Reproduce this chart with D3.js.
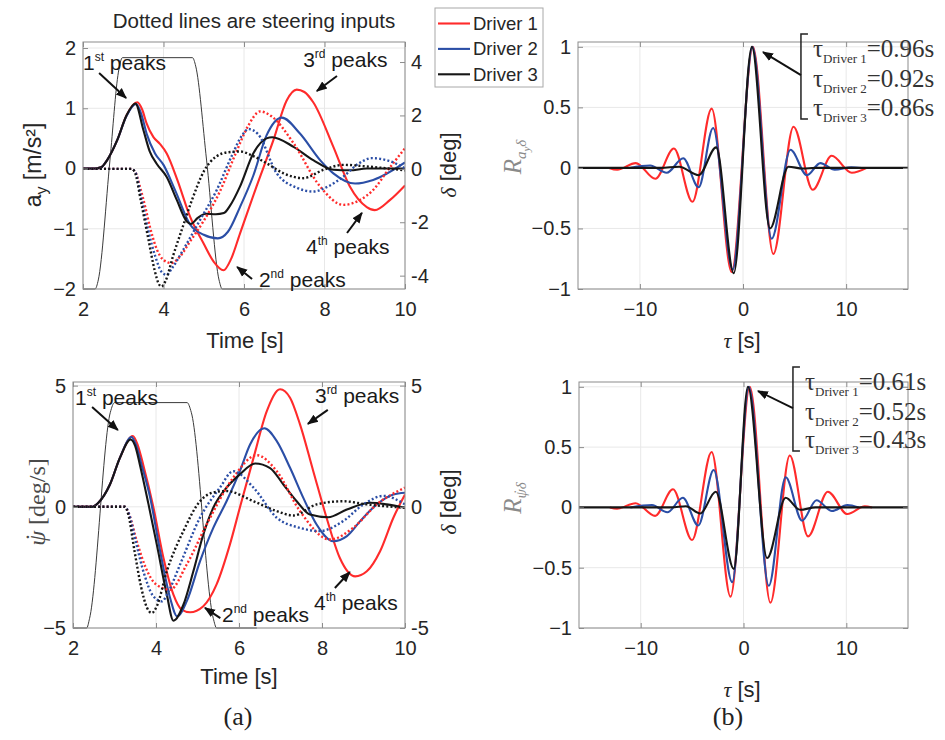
<!DOCTYPE html>
<html>
<head>
<meta charset="utf-8">
<script src="https://cdn.jsdelivr.net/npm/d3@7"></script>
<style>
  body { margin: 0; background: #fff; }
  svg { display: block; }
</style>
</head>
<body>
<svg id="chart" width="945" height="740"></svg>
<script>
const driverNames = ['Driver 1', 'Driver 2', 'Driver 3'];
const driverColors = ['#ff2b2b', '#2b4ea6', '#161616'];

// (a) top: lateral acceleration a_y [m/s²], knots [time s, value]
const ayDriver1 = [[2,0],[2.3,0],[2.45,0.02],[2.6,0.14],[2.85,0.47],[3.08,0.88],[3.35,1.1],[3.47,0.98],[3.58,0.75],[3.75,0.52],[3.91,0.41],[4.08,0.25],[4.35,-0.2],[4.66,-0.8],[5.0,-1.25],[5.25,-1.55],[5.49,-1.69],[5.68,-1.5],[5.9,-1.08],[6.31,-0.3],[6.73,0.47],[7.06,1.13],[7.31,1.31],[7.5,1.27],[7.72,1.1],[8.22,0.36],[8.63,-0.3],[9.05,-0.64],[9.25,-0.69],[9.63,-0.52],[10,-0.28]];
const ayDriver2 = [[2,0],[2.3,0],[2.45,0.02],[2.6,0.14],[2.85,0.47],[3.08,0.87],[3.32,1.07],[3.45,0.9],[3.58,0.58],[3.79,0.25],[4.0,0.06],[4.3,-0.38],[4.66,-0.93],[5.0,-1.1],[5.35,-1.16],[5.6,-1.05],[5.9,-0.64],[6.23,-0.12],[6.56,0.55],[6.94,0.845],[7.39,0.58],[7.89,0.14],[8.22,-0.08],[8.76,-0.25],[9.21,-0.19],[10,0.1]];
const ayDriver3 = [[2,0],[2.3,0],[2.45,0.02],[2.6,0.14],[2.85,0.47],[3.08,0.88],[3.3,1.08],[3.5,0.64],[3.66,0.28],[3.83,0.08],[4.08,-0.14],[4.33,-0.52],[4.58,-0.88],[4.68,-0.92],[4.85,-0.82],[5.05,-0.75],[5.3,-0.76],[5.5,-0.74],[5.65,-0.62],[5.9,-0.3],[6.23,0.25],[6.56,0.5],[6.7,0.52],[7.23,0.36],[7.72,0.14],[8.22,-0.02],[8.63,-0.03],[9.05,0],[10,0]];
// (a) top: steering inputs δ [deg] (dotted, right axis)
const steerA1 = [[2,0],[3.2,0],[3.3,-0.12],[3.42,-0.7],[3.55,-1.45],[3.66,-2.16],[3.83,-3.0],[3.99,-3.4],[4.2,-3.53],[4.4,-3.3],[4.66,-2.72],[4.99,-1.97],[5.4,-0.85],[5.8,0.6],[6.1,1.6],[6.4,2.15],[6.7,1.95],[7.23,0.96],[7.89,-0.66],[8.47,-1.35],[8.9,-1.15],[9.21,-0.79],[9.6,0.0],[10,0.77]];
const steerA2 = [[2,0],[3.2,0],[3.3,-0.12],[3.45,-1.1],[3.62,-2.3],[3.8,-3.3],[3.95,-3.85],[4.08,-3.97],[4.2,-3.75],[4.49,-3.03],[4.91,-1.91],[5.32,-0.8],[5.7,0.5],[5.95,1.25],[6.11,1.49],[6.35,1.3],[6.81,-0.16],[7.3,-0.7],[7.72,-0.85],[8.1,-0.65],[8.47,-0.29],[8.85,0.2],[9.17,0.4],[9.6,0.3],[10,0.02]];
const steerA3 = [[2,0],[3.2,0],[3.28,-0.1],[3.45,-1.3],[3.62,-2.6],[3.78,-3.8],[3.88,-4.3],[3.95,-4.41],[4.05,-4.2],[4.25,-3.2],[4.45,-2.3],[4.7,-1.2],[5.0,-0.1],[5.3,0.45],[5.6,0.62],[5.9,0.65],[6.2,0.5],[6.56,0.21],[7.0,-0.18],[7.47,-0.35],[7.97,-0.04],[8.47,0.15],[9.05,0.09],[10,-0.06]];
// thin reference trace (left axis units)
const refInputA = [[2,-2],[2.3,-2],[2.38,-1.85],[2.67,0.14],[2.88,1.6],[2.98,1.84],[4.72,1.84],[4.8,1.7],[5.07,0.14],[5.38,-1.85],[5.46,-2],[6.45,-2]];

// (a) bottom: yaw rate [deg/s]
const yrDriver1 = [[2,0],[2.45,0],[2.6,0.15],[2.89,0.92],[3.13,2.02],[3.44,2.92],[3.56,2.55],[3.69,1.75],[3.94,-0.04],[4.18,-2.11],[4.42,-3.62],[4.62,-4.24],[4.82,-4.35],[5.14,-4.1],[5.46,-3.2],[5.78,-1.56],[6.02,-0.04],[6.35,2.02],[6.67,3.95],[6.99,4.85],[7.23,4.5],[7.47,3.4],[7.79,1.47],[8.11,-0.45],[8.43,-2.11],[8.8,-2.87],[9.08,-2.66],[9.4,-1.83],[9.72,-0.45],[10,0.51]];
const yrDriver2 = [[2,0],[2.45,0],[2.6,0.15],[2.89,0.92],[3.13,2.02],[3.41,2.88],[3.52,2.55],[3.65,1.75],[3.86,0.37],[4.1,-1.83],[4.34,-3.76],[4.51,-4.52],[4.74,-3.9],[5.06,-2.25],[5.38,-0.87],[5.7,0.23],[6.02,1.47],[6.27,2.58],[6.61,3.24],[6.91,2.71],[7.23,1.61],[7.55,0.37],[7.87,-0.73],[8.27,-1.42],[8.6,-1.21],[8.92,-0.59],[9.32,0.1],[9.72,0.51],[10,0.58]];
const yrDriver3 = [[2,0],[2.45,0],[2.6,0.15],[2.89,0.92],[3.13,2.02],[3.39,2.78],[3.5,2.5],[3.61,1.75],[3.82,0.1],[4.02,-1.56],[4.26,-3.62],[4.42,-4.7],[4.66,-4.04],[4.9,-2.66],[5.14,-1.14],[5.38,-0.04],[5.7,0.79],[6.02,1.34],[6.39,1.79],[6.75,1.6],[7.07,0.92],[7.39,0.23],[7.71,-0.32],[8.15,-0.43],[8.6,-0.11],[9.16,0.17],[9.56,0.1],[10,-0.04]];
const steerB1 = [[2,0],[3.25,0],[3.35,-0.3],[3.55,-1.5],[3.75,-2.5],[4.0,-3.2],[4.34,-3.42],[4.74,-2.38],[5.22,-0.73],[5.86,1.2],[6.43,2.13],[6.91,1.47],[7.47,-0.18],[8.19,-1.35],[8.75,-0.87],[9.32,0.1],[10,0.79]];
const steerB2 = [[2,0],[3.25,0],[3.35,-0.3],[3.52,-1.5],[3.72,-2.8],[3.92,-3.65],[4.14,-3.9],[4.3,-3.5],[4.58,-2.38],[5.06,-0.45],[5.54,0.79],[5.86,1.47],[6.35,0.79],[6.91,-0.45],[7.47,-0.87],[7.95,-1.0],[8.5,-0.6],[9.0,0.1],[9.48,0.45],[10,0.1]];
const steerB3 = [[2,0],[3.25,0],[3.33,-0.3],[3.48,-1.8],[3.64,-3.3],[3.78,-4.15],[3.9,-4.38],[4.02,-4.1],[4.26,-2.66],[4.66,-1.0],[5.06,0.23],[5.4,0.6],[5.7,0.65],[6.35,0.23],[6.91,-0.18],[7.31,-0.36],[7.87,0.1],[8.51,0.23],[9.08,0.1],[10,-0.04]];
const refInputB = [[2,-5],[2.33,-5],[2.4,-4.6],[2.9,3.9],[3.0,4.3],[4.75,4.3],[4.85,3.9],[5.38,-4.6],[5.46,-5],[6.43,-5]];

// (b) cross-correlations, knots [lag τ s, R]
const corrA1 = [[-13,0],[-12.2,-0.015],[-10.4,0.04],[-8.5,-0.09],[-6.7,0.16],[-4.9,-0.28],[-3.04,0.49],[-1.1,-0.86],[0.96,1.0],[2.94,-0.71],[4.9,0.34],[6.76,-0.18],[8.6,0.1],[10.55,-0.04],[12,0]];
const corrA2 = [[-11,0],[-9.0,0.02],[-7.4,-0.04],[-5.8,0.08],[-4.3,-0.16],[-2.9,0.33],[-1.0,-0.84],[0.92,1.0],[2.78,-0.585],[4.6,0.15],[6.2,-0.06],[7.5,0.04],[8.9,-0.015],[10.5,0.005],[11.5,0]];
const corrA3 = [[-16,0],[-8,0],[-6.2,0.01],[-4.3,-0.06],[-2.6,0.17],[-0.9,-0.87],[0.86,1.0],[2.62,-0.5],[4.4,0.01],[5.8,-0.005],[7,0],[16,0]];
const corrB1 = [[-13,0],[-12.3,-0.01],[-10.5,0.035],[-8.6,-0.07],[-6.86,0.15],[-5.0,-0.27],[-3.1,0.46],[-1.26,-0.74],[0.61,1.0],[2.62,-0.79],[4.5,0.43],[6.28,-0.24],[8.2,0.13],[10.1,-0.055],[11.8,0.01],[12.5,0]];
const corrB2 = [[-11,0],[-8.9,0.02],[-7.4,-0.04],[-5.9,0.08],[-4.4,-0.15],[-2.9,0.31],[-1.1,-0.62],[0.52,1.0],[2.46,-0.65],[4.1,0.25],[5.7,-0.11],[7.1,0.06],[8.6,-0.03],[10.1,0.02],[11.2,0]];
const corrB3 = [[-16,0],[-7,0],[-5.6,0.01],[-4.2,-0.05],[-2.7,0.13],[-0.94,-0.51],[0.43,1.0],[2.3,-0.42],[4.1,0.08],[5.5,-0.02],[7,0],[16,0]];

const lagsA = ['0.96s', '0.92s', '0.86s'];
const lagsB = ['0.61s', '0.52s', '0.43s'];

const timeTicks = [2, 4, 6, 8, 10];
const lagTicks = [-10, 0, 10];
const ayTicks = [-2, -1, 0, 1, 2];
const steerTicksA = [-4, -2, 0, 2, 4];
const yrTicks = [-5, 0, 5];
const corrTicks = [-1, -0.5, 0, 0.5, 1];

const sans = '"Liberation Sans", Arial, Helvetica, sans-serif';
const serif = '"Liberation Serif", "Times New Roman", serif';
const boxColor = '#8c8c8c';
const gridColor = '#e8e8e8';
const minusFmt = d => (d < 0 ? '\u2212' : '') + Math.abs(d);
const hyphenFmt = d => String(d);

const svg = d3.select('#chart');
const defs = svg.append('defs');
defs.append('marker')
  .attr('id', 'arrow')
  .attr('viewBox', '0 0 10 10')
  .attr('refX', 9).attr('refY', 5)
  .attr('markerWidth', 11).attr('markerHeight', 11)
  .attr('markerUnits', 'userSpaceOnUse')
  .attr('orient', 'auto')
  .append('path')
  .attr('d', 'M0,1 L10,5 L0,9 z')
  .attr('fill', '#111');

let clipCount = 0;

function styleAxis(sel) {
  sel.select('.domain').remove();
  sel.selectAll('.tick line').attr('stroke', boxColor);
  sel.selectAll('.tick text')
    .attr('font-family', sans)
    .attr('font-size', 20)
    .attr('fill', '#262626');
}

function drawPanel(p) {
  const x = d3.scaleLinear().domain(p.xDomain).range([p.left, p.right]);
  const y = d3.scaleLinear().domain(p.yDomain).range([p.bottom, p.top]);
  const y2 = p.y2Domain ? d3.scaleLinear().domain(p.y2Domain).range([p.bottom, p.top]) : null;
  const g = svg.append('g');

  // grid
  g.append('g').selectAll('line').data(p.xTicks).join('line')
    .attr('x1', d => x(d)).attr('x2', d => x(d))
    .attr('y1', p.top).attr('y2', p.bottom)
    .attr('stroke', gridColor);
  g.append('g').selectAll('line').data(p.yTicks).join('line')
    .attr('x1', p.left).attr('x2', p.right)
    .attr('y1', d => y(d)).attr('y2', d => y(d))
    .attr('stroke', gridColor);

  const id = 'clip' + (clipCount++);
  defs.append('clipPath').attr('id', id).append('rect')
    .attr('x', p.left).attr('y', p.top - 2)
    .attr('width', p.right - p.left).attr('height', p.bottom - p.top + 4);
  const plot = g.append('g').attr('clip-path', `url(#${id})`);

  const lineL = d3.line().x(d => x(d[0])).y(d => y(d[1])).curve(d3.curveMonotoneX);
  const lineR = y2 ? d3.line().x(d => x(d[0])).y(d => y2(d[1])).curve(d3.curveMonotoneX) : null;

  if (p.ref) {
    plot.append('path').datum(p.ref)
      .attr('d', lineL).attr('fill', 'none')
      .attr('stroke', '#3a3a3a').attr('stroke-width', 1);
  }
  plot.selectAll('path.solid').data(p.solid).join('path')
    .attr('class', 'solid')
    .attr('d', d => lineL(d))
    .attr('fill', 'none')
    .attr('stroke', (d, i) => driverColors[i])
    .attr('stroke-width', 2.1)
    .attr('stroke-linejoin', 'round');
  if (p.dotted) {
    plot.selectAll('path.dotted').data(p.dotted).join('path')
      .attr('class', 'dotted')
      .attr('d', d => lineR(d))
      .attr('fill', 'none')
      .attr('stroke', (d, i) => driverColors[i])
      .attr('stroke-width', 2.4)
      .attr('stroke-dasharray', '2,2.2');
  }

  // axes
  const xa = g.append('g').attr('transform', `translate(0,${p.bottom})`)
    .call(d3.axisBottom(x).tickValues(p.xTicks).tickSizeInner(-5).tickSizeOuter(0).tickPadding(13)
      .tickFormat(minusFmt));
  styleAxis(xa);
  const xt = g.append('g').attr('transform', `translate(0,${p.top})`)
    .call(d3.axisTop(x).tickValues(p.xTicks).tickSizeInner(-5).tickSizeOuter(0).tickFormat(''));
  styleAxis(xt);
  const ya = g.append('g').attr('transform', `translate(${p.left},0)`)
    .call(d3.axisLeft(y).tickValues(p.yTicks).tickSizeInner(-5).tickSizeOuter(0).tickPadding(7)
      .tickFormat(minusFmt));
  styleAxis(ya);
  let yr;
  if (y2) {
    yr = g.append('g').attr('transform', `translate(${p.right},0)`)
      .call(d3.axisRight(y2).tickValues(p.y2Ticks).tickSizeInner(-5).tickSizeOuter(0).tickPadding(6)
        .tickFormat(hyphenFmt));
  } else {
    yr = g.append('g').attr('transform', `translate(${p.right},0)`)
      .call(d3.axisRight(y).tickValues(p.yTicks).tickSizeInner(-5).tickSizeOuter(0).tickFormat(''));
  }
  styleAxis(yr);

  g.append('rect')
    .attr('x', p.left).attr('y', p.top)
    .attr('width', p.right - p.left).attr('height', p.bottom - p.top)
    .attr('fill', 'none').attr('stroke', boxColor).attr('stroke-width', 1);

  return { x, y, y2, g };
}

const ordinals = { 1: 'st', 2: 'nd', 3: 'rd', 4: 'th' };

function peakNote(pan, n, at, from, to) {
  const t = svg.append('text')
    .attr('x', pan.x(at[0])).attr('y', pan.y(at[1]))
    .attr('font-family', sans).attr('font-size', 21).attr('fill', '#1a1a1a');
  t.append('tspan').text(String(n));
  t.append('tspan').attr('font-size', 12).attr('dy', -9).text(ordinals[n]);
  t.append('tspan').attr('dy', 9).text(' peaks');
  svg.append('line')
    .attr('x1', pan.x(from[0])).attr('y1', pan.y(from[1]))
    .attr('x2', pan.x(to[0])).attr('y2', pan.y(to[1]))
    .attr('stroke', '#111').attr('stroke-width', 2)
    .attr('marker-end', 'url(#arrow)');
}

function lagNote(pan, bx, bTop, bBot, arrowY, tip, textX, baselines, lags) {
  const X = pan.x(bx);
  svg.append('path')
    .attr('d', `M${X + 7},${pan.y(bTop)} H${X} V${pan.y(bBot)} H${X + 7}`)
    .attr('fill', 'none').attr('stroke', '#222').attr('stroke-width', 1.5);
  svg.append('line')
    .attr('x1', X).attr('y1', pan.y(arrowY))
    .attr('x2', pan.x(tip[0])).attr('y2', pan.y(tip[1]))
    .attr('stroke', '#111').attr('stroke-width', 2)
    .attr('marker-end', 'url(#arrow)');
  lags.forEach((lag, i) => {
    const t = svg.append('text')
      .attr('x', pan.x(textX)).attr('y', pan.y(baselines[i]))
      .attr('font-family', serif).attr('font-size', 25).attr('fill', '#333');
    t.append('tspan').text('\u03C4');
    t.append('tspan').attr('font-size', 13).attr('dy', 6).text(driverNames[i]);
    t.append('tspan').attr('dy', -6).text('=' + lag);
  });
}

// ---- panel (a) top
const pA = drawPanel({
  left: 83, right: 405, top: 42, bottom: 289,
  xDomain: [2, 10], yDomain: [-2, 2.1], y2Domain: [-4.5, 4.75],
  xTicks: timeTicks, yTicks: ayTicks, y2Ticks: steerTicksA,
  solid: [ayDriver1, ayDriver2, ayDriver3],
  dotted: [steerA1, steerA2, steerA3],
  ref: refInputA
});
// ---- panel (a) bottom
const pB = drawPanel({
  left: 73, right: 405, top: 382, bottom: 628,
  xDomain: [2, 10], yDomain: [-5, 5.15], y2Domain: [-5, 5.15],
  xTicks: timeTicks, yTicks: yrTicks, y2Ticks: yrTicks,
  solid: [yrDriver1, yrDriver2, yrDriver3],
  dotted: [steerB1, steerB2, steerB3],
  ref: refInputB
});
// ---- panel (b) top
const pC = drawPanel({
  left: 578, right: 908, top: 42, bottom: 289,
  xDomain: [-16, 16], yDomain: [-1, 1.04],
  xTicks: lagTicks, yTicks: corrTicks,
  solid: [corrA1, corrA2, corrA3]
});
// ---- panel (b) bottom
const pD = drawPanel({
  left: 579, right: 908, top: 382, bottom: 628,
  xDomain: [-16, 16], yDomain: [-1, 1.04],
  xTicks: lagTicks, yTicks: corrTicks,
  solid: [corrB1, corrB2, corrB3]
});

// peak annotations (data coordinates)
peakNote(pA, 1, [2.0, 1.635], [2.4, 1.585], [3.07, 1.17]);
peakNote(pA, 3, [7.47, 1.685], [8.31, 1.536], [7.81, 1.287]);
peakNote(pA, 4, [7.54, -1.419], [8.56, -1.07], [8.93, -0.738]);
peakNote(pA, 2, [6.37, -1.967], [6.2, -1.834], [5.83, -1.635]);

peakNote(pB, 1, [2.05, 4.2], [2.46, 4.12], [3.08, 3.17]);
peakNote(pB, 3, [7.83, 4.28], [8.14, 4.0], [7.66, 3.42]);
peakNote(pB, 4, [7.81, -4.26], [8.31, -3.35], [8.67, -2.69]);
peakNote(pB, 2, [5.59, -4.75], [5.55, -4.59], [5.18, -4.17]);

lagNote(pC, 5.62, 1.106, 0.404, 0.767, [1.94, 0.957], 6.79, [0.916, 0.668, 0.429], lagsA);
lagNote(pD, 4.81, 1.164, 0.468, 0.824, [1.41, 0.965], 5.98, [0.974, 0.725, 0.493], lagsB);

// titles and axis labels
svg.append('text').attr('x', 254).attr('y', 28).attr('text-anchor', 'middle')
  .attr('font-family', sans).attr('font-size', 20.5).attr('fill', '#262626')
  .text('Dotted lines are steering inputs');

function xLabel(x, y, parts) {
  const t = svg.append('text').attr('x', x).attr('y', y).attr('text-anchor', 'middle')
    .attr('font-family', sans).attr('font-size', 22).attr('fill', '#262626');
  parts.forEach(pt => {
    const s = t.append('tspan').text(pt.text);
    if (pt.italic) s.attr('font-family', serif).attr('font-style', 'italic');
  });
}
xLabel(245, 348, [{ text: 'Time [s]' }]);
xLabel(239, 684, [{ text: 'Time [s]' }]);
xLabel(742, 348, [{ text: '\u03C4', italic: true }, { text: ' [s]' }]);
xLabel(742, 697, [{ text: '\u03C4', italic: true }, { text: ' [s]' }]);

function rotLabel(x, y) {
  return svg.append('text')
    .attr('transform', `translate(${x},${y}) rotate(-90)`)
    .attr('text-anchor', 'middle');
}

// a_y [m/s²]
let t = rotLabel(41, 165).attr('font-family', sans).attr('font-size', 23).attr('fill', '#262626');
t.append('tspan').text('a');
t.append('tspan').attr('font-size', 16).attr('dy', 6).text('y');
t.append('tspan').attr('dy', -6).text(' [m/s\u00B2]');

// δ [deg] right axes
[[456, 165], [456, 502]].forEach(([x, y]) => {
  const r = rotLabel(x, y).attr('font-family', sans).attr('font-size', 22).attr('fill', '#262626');
  r.append('tspan').attr('font-family', serif).attr('font-style', 'italic').text('\u03B4');
  r.append('tspan').text(' [deg]');
});

// ψ̇ [deg/s] : psi with a dot placed over it
t = rotLabel(45, 502).attr('font-family', serif).attr('font-size', 24).attr('fill', '#4a4a4a');
t.append('tspan').attr('font-style', 'italic').text('\u03C8');
t.append('tspan').attr('dx', -10).attr('dy', -3).text('\u02D9');
t.append('tspan').attr('dx', 2).attr('dy', 3).text(' [deg/s]');

// R labels
t = rotLabel(521, 157).attr('font-family', serif).attr('font-style', 'italic').attr('font-size', 25).attr('fill', '#8a8a8a');
t.append('tspan').text('R');
t.append('tspan').attr('font-size', 15).attr('dy', 5).text('a');
t.append('tspan').attr('font-size', 11).attr('dy', 4).text('y');
t.append('tspan').attr('font-size', 15).attr('dy', -4).text('\u03B4');

t = rotLabel(521, 498).attr('font-family', serif).attr('font-style', 'italic').attr('font-size', 25).attr('fill', '#8a8a8a');
t.append('tspan').text('R');
t.append('tspan').attr('font-size', 15).attr('dy', 5).text('\u03C8');
t.append('tspan').attr('font-size', 15).attr('dx', -6).attr('dy', -2).text('\u02D9');
t.append('tspan').attr('font-size', 15).attr('dx', 1).attr('dy', 2).text('\u03B4');

// legend
const legend = svg.append('g');
legend.append('rect').attr('x', 435).attr('y', 8).attr('width', 108).attr('height', 79)
  .attr('fill', '#fff').attr('stroke', '#a8a8a8');
driverNames.forEach((name, i) => {
  const ly = 23.5 + 25.4 * i;
  legend.append('line').attr('x1', 438).attr('x2', 470).attr('y1', ly).attr('y2', ly)
    .attr('stroke', driverColors[i]).attr('stroke-width', 2.1);
  legend.append('text').attr('x', 473).attr('y', ly).attr('dy', '0.35em')
    .attr('font-family', sans).attr('font-size', 18.5).attr('fill', '#262626').text(name);
});

// captions
svg.append('text').attr('x', 238).attr('y', 725).attr('text-anchor', 'middle')
  .attr('font-family', serif).attr('font-size', 26).attr('fill', '#222').text('(a)');
svg.append('text').attr('x', 728).attr('y', 725).attr('text-anchor', 'middle')
  .attr('font-family', serif).attr('font-size', 26).attr('fill', '#222').text('(b)');
</script>
</body>
</html>
